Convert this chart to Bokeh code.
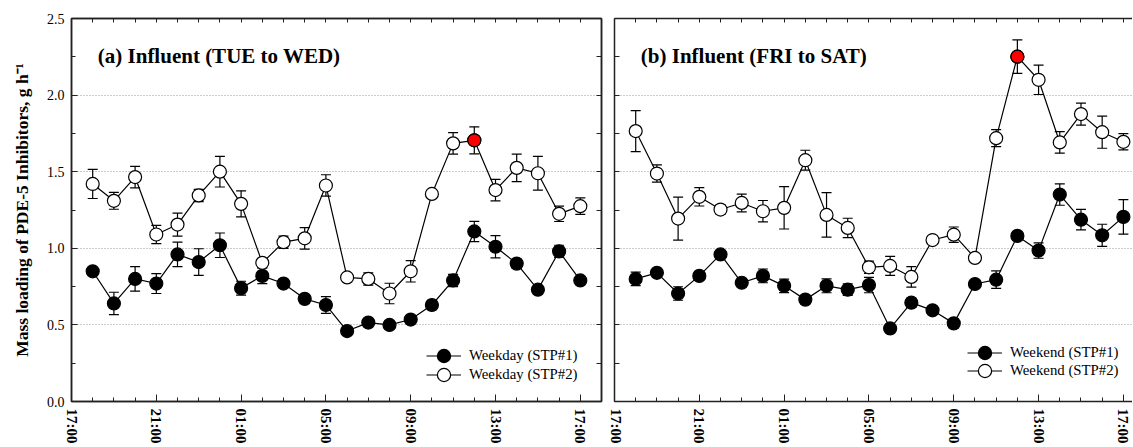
import numpy as np
from bokeh.plotting import figure
from bokeh.layouts import row
from bokeh.models import (ColumnDataSource, Range1d, LinearAxis, FixedTicker, Grid,
                          Whisker, TeeHead, Legend, LegendItem, Label)
from bokeh.embed import file_html
from bokeh.resources import INLINE

# ---------------- data ----------------
# hours after 17:00 (18:00 ... 17:00 next day)
hours = [1, 2, 3, 4, 5, 6, 7, 8, 9, 10, 11, 12, 13, 14, 15, 16, 17, 18, 19, 20, 21, 22, 23, 24]
tick_hours = [0, 4, 8, 12, 16, 20, 24]
tick_labels = ["17:00", "21:00", "01:00", "05:00", "09:00", "13:00", "17:00"]

weekday_stp1 = [0.85, 0.64, 0.80, 0.77, 0.96, 0.91, 1.02, 0.74, 0.82, 0.77, 0.67, 0.63,
                0.46, 0.515, 0.50, 0.535, 0.63, 0.79, 1.11, 1.01, 0.90, 0.73, 0.98, 0.79]
weekday_stp1_err = [0.02, 0.073, 0.08, 0.065, 0.08, 0.087, 0.08, 0.045, 0.05, 0.015, 0.02, 0.055,
                    0.015, 0.015, 0.015, 0.015, 0.03, 0.04, 0.066, 0.073, 0.03, 0.015, 0.04, 0.015]
weekday_stp2 = [1.42, 1.31, 1.465, 1.09, 1.155, 1.345, 1.50, 1.29, 0.905, 1.04, 1.065, 1.41,
                0.81, 0.80, 0.705, 0.85, 1.355, 1.685, 1.705, 1.38, 1.525, 1.49, 1.225, 1.275]
weekday_stp2_err = [0.095, 0.055, 0.07, 0.06, 0.075, 0.04, 0.10, 0.085, 0.02, 0.04, 0.07, 0.07,
                    0.02, 0.04, 0.067, 0.07, 0.02, 0.07, 0.088, 0.07, 0.09, 0.11, 0.05, 0.054]

weekend_stp1 = [0.80, 0.84, 0.705, 0.82, 0.96, 0.775, 0.82, 0.755, 0.665, 0.755, 0.73, 0.76,
                0.477, 0.645, 0.595, 0.51, 0.767, 0.795, 1.081, 0.985, 1.351, 1.187, 1.085, 1.205]
weekend_stp1_err = [0.044, 0.02, 0.044, 0.02, 0.02, 0.02, 0.045, 0.044, 0.02, 0.045, 0.038, 0.05,
                    0.015, 0.03, 0.015, 0.03, 0.015, 0.057, 0.02, 0.05, 0.07, 0.067, 0.072, 0.113]
weekend_stp2 = [1.765, 1.488, 1.194, 1.336, 1.253, 1.296, 1.242, 1.264, 1.575, 1.218, 1.133, 0.876,
                0.885, 0.813, 1.054, 1.089, 0.937, 1.719, 2.251, 2.100, 1.691, 1.876, 1.758, 1.695]
weekend_stp2_err = [0.134, 0.056, 0.14, 0.06, 0.03, 0.058, 0.07, 0.138, 0.065, 0.145, 0.063, 0.04,
                    0.062, 0.067, 0.02, 0.05, 0.02, 0.055, 0.109, 0.096, 0.07, 0.072, 0.105, 0.053]

# highlighted (peak) sample: 12:00
peak_hour = [19]

panel_titles = ["(a) Influent (TUE to WED)", "(b) Influent (FRI to SAT)"]
legend_labels_a = ["Weekday (STP#1)", "Weekday (STP#2)"]
legend_labels_b = ["Weekend (STP#1)", "Weekend (STP#2)"]
y_label = "Mass loading of PDE-5 Inhibitors, g h\u207b\u00b9"

# ---------------- style ----------------
SERIF = "Liberation Serif"
AX_COL = "#222222"
MARK = 13
y_minor = [i * 0.25 for i in range(11)]
x_minor = list(range(0, 26))


def legend_for(renderers, label, xy):
    return Legend(items=[LegendItem(label=label, renderers=renderers)],
                  location=xy, orientation="vertical",
                  border_line_color=None, background_fill_alpha=0,
                  padding=0, margin=0, spacing=0,
                  glyph_width=35, glyph_height=33, label_height=19, label_standoff=8,
                  label_text_font=SERIF, label_text_font_size="14.8px",
                  label_text_color="black")


def make_panel(title, s1, e1, s2, e2, labels, x_end, frame_w, left_border, right_border,
               show_ylabels, legend_x, legend_y1, legend_y2):
    p = figure(frame_width=frame_w, frame_height=383, output_backend="svg",
               toolbar_location=None, x_axis_type=None, y_axis_type=None,
               min_border_left=left_border, min_border_right=right_border,
               min_border_top=18, min_border_bottom=42,
               x_range=Range1d(0, x_end), y_range=Range1d(0, 2.5))
    p.background_fill_color = "white"
    p.border_fill_color = "white"
    if right_border > 0:
        p.outline_line_color = AX_COL
        p.outline_line_width = 1.5
    else:
        p.outline_line_color = None

    # grid
    p.add_layout(Grid(dimension=1, ticker=FixedTicker(ticks=[0.5, 1.0, 1.5, 2.0]),
                      grid_line_color="#999999", grid_line_dash="1 2", grid_line_width=1))

    # bottom axis
    xb = LinearAxis(ticker=FixedTicker(ticks=tick_hours, minor_ticks=x_minor),
                    major_label_overrides={h: l for h, l in zip(tick_hours, tick_labels)},
                    major_label_orientation="vertical",
                    major_label_text_font=SERIF, major_label_text_font_style="bold",
                    major_label_text_font_size="15px", major_label_text_color="black",
                    major_label_standoff=7,
                    major_tick_in=7, major_tick_out=0, minor_tick_in=4, minor_tick_out=0,
                    axis_line_color=AX_COL, axis_line_width=1.5,
                    major_tick_line_color=AX_COL, minor_tick_line_color=AX_COL)
    p.add_layout(xb, "below")
    # top axis (ticks only)
    xt = LinearAxis(ticker=FixedTicker(ticks=[], minor_ticks=x_minor),
                    minor_tick_in=4, minor_tick_out=0,
                    axis_line_color=AX_COL, axis_line_width=1.5, minor_tick_line_color=AX_COL)
    p.add_layout(xt, "above")

    # left axis
    if show_ylabels:
        yl = LinearAxis(ticker=FixedTicker(ticks=[0, 0.5, 1.0, 1.5, 2.0, 2.5], minor_ticks=y_minor),
                        major_label_text_font=SERIF, major_label_text_font_size="14px",
                        major_label_text_color="black", major_label_standoff=7,
                        major_tick_in=6, major_tick_out=0, minor_tick_in=4, minor_tick_out=0,
                        axis_label=y_label, axis_label_text_font=SERIF,
                        axis_label_text_font_style="bold", axis_label_text_font_size="17.5px",
                        axis_label_text_color="black", axis_label_standoff=12,
                        axis_line_color=AX_COL, axis_line_width=1.5,
                        major_tick_line_color=AX_COL, minor_tick_line_color=AX_COL)
        yl.major_label_overrides = {0: "0.0", 0.5: "0.5", 1.0: "1.0", 1.5: "1.5", 2.0: "2.0", 2.5: "2.5"}
    else:
        yl = LinearAxis(ticker=FixedTicker(ticks=[], minor_ticks=y_minor),
                        minor_tick_in=5, minor_tick_out=0,
                        axis_line_color=AX_COL, axis_line_width=1.5, minor_tick_line_color=AX_COL)
    p.add_layout(yl, "left")
    if right_border > 0:
        yr = LinearAxis(ticker=FixedTicker(ticks=[], minor_ticks=y_minor),
                        minor_tick_in=5, minor_tick_out=0,
                        axis_line_color=AX_COL, axis_line_width=1.5, minor_tick_line_color=AX_COL)
        p.add_layout(yr, "right")

    # error bars
    for s, e in ((s1, e1), (s2, e2)):
        v = np.array(s)
        er = np.array(e)
        src = ColumnDataSource(dict(x=hours, lower=v - er, upper=v + er))
        w = Whisker(base="x", lower="lower", upper="upper", source=src,
                    line_color="black", line_width=1.2, level="underlay",
                    upper_head=TeeHead(size=10, line_color="black", line_width=1.2),
                    lower_head=TeeHead(size=10, line_color="black", line_width=1.2))
        p.add_layout(w)

    l1 = p.line(hours, s1, line_color="black", line_width=1.2)
    l2 = p.line(hours, s2, line_color="black", line_width=1.2)
    m1 = p.scatter(hours, s1, marker="circle", size=MARK, fill_color="black",
                   line_color="black", line_width=1.2)
    m2 = p.scatter(hours, s2, marker="circle", size=MARK, fill_color="white",
                   line_color="black", line_width=1.2)
    pk_y = [s2[hours.index(h)] for h in peak_hour]
    p.scatter(peak_hour, pk_y, marker="circle", size=MARK, fill_color="#ff0000",
              line_color="black", line_width=1.2)

    p.add_layout(Label(x=1.24, y=2.258, text=title, text_font=SERIF,
                       text_font_style="bold", text_font_size="21px",
                       text_color="black", text_baseline="alphabetic"))

    p.add_layout(legend_for([l1, m1], labels[0], (legend_x, legend_y1)))
    p.add_layout(legend_for([l2, m2], labels[1], (legend_x, legend_y2)))
    return p


pa = make_panel(panel_titles[0], weekday_stp1, weekday_stp1_err, weekday_stp2, weekday_stp2_err,
                legend_labels_a, 25, 530, 71, 6, True, 355, 29, 10)
pb = make_panel(panel_titles[1], weekend_stp1, weekend_stp1_err, weekend_stp2, weekend_stp2_err,
                legend_labels_b, 24.43, 518, 7, 0, False, 353, 32, 14)

layout = row(pa, pb)
open("out.html", "w").write(file_html(layout, INLINE))
